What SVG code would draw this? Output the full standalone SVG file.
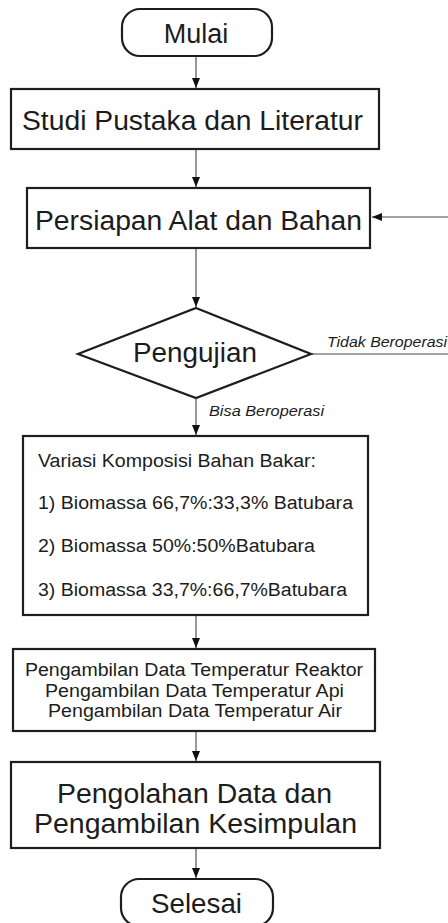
<svg xmlns="http://www.w3.org/2000/svg" width="448" height="923" viewBox="0 0 448 923">
<style>
.box{fill:#fff;stroke:#1e1e1e;stroke-width:2.2}
.con{fill:none;stroke:#444;stroke-width:1.1}
.t{font-family:"Liberation Sans",Arial,sans-serif;fill:#1c1c1c}
.big{font-size:27px}
.mid{font-size:18px}
.lab{font-size:14.5px;font-style:italic}
</style>
<defs>
<marker id="ah" markerUnits="userSpaceOnUse" markerWidth="10" markerHeight="10" viewBox="0 0 10 10" refX="10" refY="5" orient="auto">
<path d="M0,1 L10,5 L0,9 Z" fill="#111"/>
</marker>
</defs>
<rect width="448" height="923" fill="#fff"/>
<g id="connectors">
<line class="con" x1="196" y1="56" x2="196" y2="88" marker-end="url(#ah)"/>
<line class="con" x1="196" y1="149" x2="196" y2="187" marker-end="url(#ah)"/>
<line class="con" x1="196" y1="248" x2="196" y2="307" marker-end="url(#ah)"/>
<path class="con" d="M311,354 H452 V217 H372" marker-end="url(#ah)"/>
<line class="con" x1="196" y1="398" x2="196" y2="435" marker-end="url(#ah)"/>
<line class="con" x1="196" y1="615" x2="196" y2="648" marker-end="url(#ah)"/>
<line class="con" x1="196" y1="731" x2="196" y2="761" marker-end="url(#ah)"/>
<line class="con" x1="196" y1="848" x2="196" y2="878" marker-end="url(#ah)"/>
<text class="t lab" x="327" y="347" textLength="120" lengthAdjust="spacingAndGlyphs">Tidak Beroperasi</text>
<text class="t lab" x="209" y="416" textLength="115" lengthAdjust="spacingAndGlyphs">Bisa Beroperasi</text>
</g>
<g id="mulai">
<rect class="box" x="122" y="9" width="150" height="47" rx="18"/>
<text class="t" x="196" y="43" font-size="27" text-anchor="middle">Mulai</text>
</g>
<g id="studi">
<rect class="box" x="11" y="89" width="368" height="60"/>
<text class="t big" x="22" y="130" textLength="341" lengthAdjust="spacingAndGlyphs">Studi Pustaka dan Literatur</text>
</g>
<g id="persiapan">
<rect class="box" x="27" y="188" width="343" height="60"/>
<text class="t big" x="35" y="230" textLength="327" lengthAdjust="spacingAndGlyphs">Persiapan Alat dan Bahan</text>
</g>
<g id="pengujian">
<polygon class="box" points="196,308 311,354 196,398 78,354"/>
<text class="t big" x="133" y="362" textLength="124" lengthAdjust="spacingAndGlyphs">Pengujian</text>
</g>
<g id="variasi">
<rect class="box" x="23" y="436" width="345" height="179"/>
<text class="t mid" x="38" y="467" textLength="278" lengthAdjust="spacingAndGlyphs">Variasi Komposisi Bahan Bakar:</text>
<text class="t mid" x="38" y="509" textLength="315" lengthAdjust="spacingAndGlyphs">1) Biomassa 66,7%:33,3% Batubara</text>
<text class="t mid" x="38" y="552" textLength="277" lengthAdjust="spacingAndGlyphs">2) Biomassa 50%:50%Batubara</text>
<text class="t mid" x="38" y="596" textLength="309" lengthAdjust="spacingAndGlyphs">3) Biomassa 33,7%:66,7%Batubara</text>
</g>
<g id="pengambilan">
<rect class="box" x="13" y="649" width="362" height="82"/>
<text class="t mid" x="25" y="676" textLength="338" lengthAdjust="spacingAndGlyphs">Pengambilan Data Temperatur Reaktor</text>
<text class="t mid" x="45" y="697" textLength="299" lengthAdjust="spacingAndGlyphs">Pengambilan Data Temperatur Api</text>
<text class="t mid" x="48" y="717" textLength="294" lengthAdjust="spacingAndGlyphs">Pengambilan Data Temperatur Air</text>
</g>
<g id="pengolahan">
<rect class="box" x="11" y="762" width="369" height="86"/>
<text class="t big" x="57" y="803" textLength="275" lengthAdjust="spacingAndGlyphs">Pengolahan Data dan</text>
<text class="t big" x="34" y="833" textLength="323" lengthAdjust="spacingAndGlyphs">Pengambilan Kesimpulan</text>
</g>
<g id="selesai">
<rect class="box" x="121" y="879" width="152" height="47" rx="18"/>
<text class="t" x="151" y="913" font-size="27" textLength="91" lengthAdjust="spacingAndGlyphs">Selesai</text>
</g>
</svg>
